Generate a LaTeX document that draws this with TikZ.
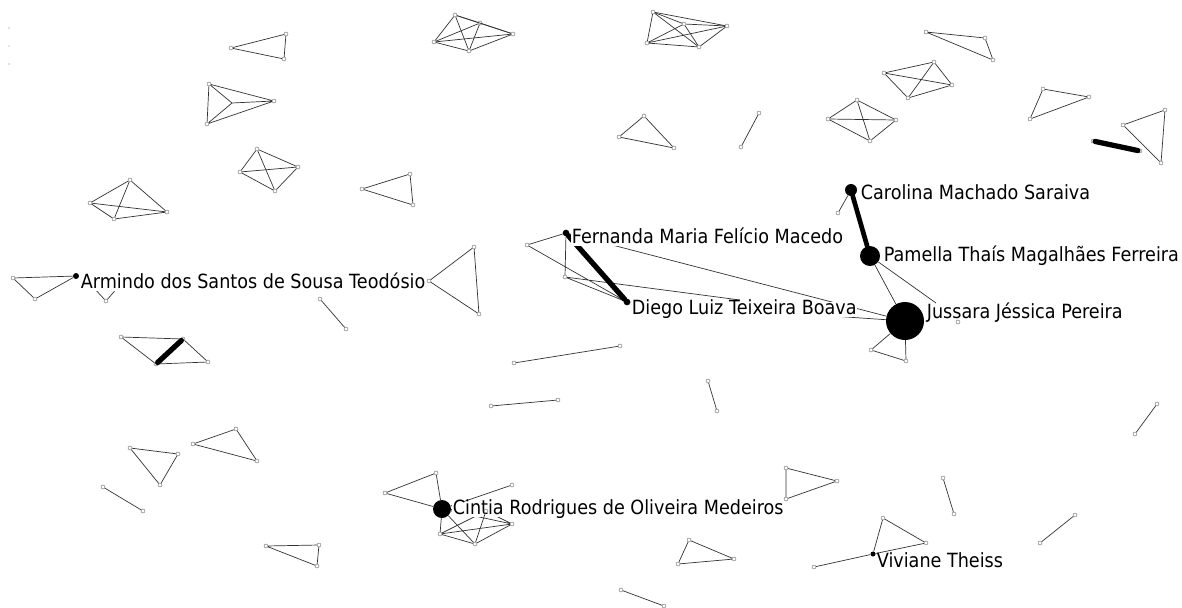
\documentclass[tikz,border=0pt]{standalone}
\usepackage{fontspec}
\setmainfont{DejaVu Sans}[FakeStretch=0.9]
\tikzset{
  v/.style={circle, draw=black!60, fill=white, inner sep=0pt, minimum size=0.12cm, line width=0.35pt},
  speck/.style={circle, fill=black!45, inner sep=0pt, minimum size=0.04cm},
  hub/.style={circle, fill=black, inner sep=0pt},
  lbl/.style={anchor=base west, fill=white, inner xsep=0.5pt, inner ysep=0.5pt,
    text height=0.95em, text depth=0.22em, font=\fontsize{16.7}{19}\selectfont},
  tie/.style={draw=black!80, line width=0.6pt},
  heavy/.style={line width=4.5pt, line cap=round},
}
\begin{document}
\begin{tikzpicture}[x=0.03cm, y=-0.03cm]
\useasboundingbox (0,0) rectangle (1182,607);

% specks at the left edge
\node[speck] (sp1) at (9,28) {};
\node[speck] (sp2) at (9,46) {};
\node[speck] (sp3) at (9,64) {};

% top left groups
\node[v] (a1) at (231,48) {};
\node[v] (a2) at (286,34) {};
\node[v] (a3) at (284,59) {};
\draw[tie] (a1) -- (a2) (a2) -- (a3) (a3) -- (a1);

\node[v] (b1) at (209,84) {};
\node[v] (b2) at (274,101) {};
\node[v] (b3) at (207,124) {};
\coordinate (b4) at (232,103);
\draw[tie] (b1) -- (b2) (b1) -- (b3) (b3) -- (b2) (b1) -- (b4) (b3) -- (b4) (b4) -- (b2);

\node[v] (c1) at (257,149) {};
\node[v] (c2) at (298,167) {};
\node[v] (c3) at (275,191) {};
\node[v] (c4) at (240,172) {};
\foreach \p/\q in {1/2,1/3,1/4,2/3,2/4,3/4} \draw[tie] (c\p) -- (c\q);

\node[v] (d1) at (130,180) {};
\node[v] (d2) at (90,203) {};
\node[v] (d3) at (114,219) {};
\node[v] (d4) at (167,212) {};
\foreach \p/\q in {1/2,1/3,1/4,2/3,2/4,3/4} \draw[tie] (d\p) -- (d\q);

\node[v] (e1) at (455,15) {};
\node[v] (e2) at (480,23) {};
\node[v] (e3) at (513,34) {};
\node[v] (e4) at (469,51) {};
\node[v] (e5) at (434,42) {};
\foreach \p/\q in {1/2,1/3,1/4,1/5,2/3,2/4,2/5,3/4,3/5,4/5} \draw[tie] (e\p) -- (e\q);

\node[v] (f1) at (362,189) {};
\node[v] (f2) at (410,174) {};
\node[v] (f3) at (413,205) {};
\draw[tie] (f1) -- (f2) (f2) -- (f3) (f3) -- (f1);

% top right groups
\node[v] (g1) at (653,12) {};
\node[v] (g2) at (684,24) {};
\node[v] (g3) at (727,26) {};
\node[v] (g4) at (699,47) {};
\node[v] (g5) at (647,43) {};
\foreach \p/\q in {1/2,1/3,1/4,1/5,2/3,2/4,2/5,3/4,3/5,4/5} \draw[tie] (g\p) -- (g\q);

\node[v] (h1) at (644,116) {};
\node[v] (h2) at (619,137) {};
\node[v] (h3) at (674,148) {};
\draw[tie] (h1) -- (h2) (h2) -- (h3) (h3) -- (h1);

\node[v] (i1) at (759,113) {};
\node[v] (i2) at (741,147) {};
\draw[tie] (i1) -- (i2);

\node[v] (j1) at (857,100) {};
\node[v] (j2) at (896,120) {};
\node[v] (j3) at (870,141) {};
\node[v] (j4) at (828,119) {};
\foreach \p/\q in {1/2,1/3,1/4,2/3,2/4,3/4} \draw[tie] (j\p) -- (j\q);

\node[v] (k1) at (926,32) {};
\node[v] (k2) at (985,38) {};
\node[v] (k3) at (993,60) {};
\draw[tie] (k1) -- (k2) (k2) -- (k3) (k3) -- (k1);

\node[v] (l1) at (884,73) {};
\node[v] (l2) at (934,62) {};
\node[v] (l3) at (952,85) {};
\node[v] (l4) at (908,98) {};
\foreach \p/\q in {1/2,1/3,1/4,2/3,2/4,3/4} \draw[tie] (l\p) -- (l\q);

\node[v] (m1) at (1043,89) {};
\node[v] (m2) at (1089,97) {};
\node[v] (m3) at (1030,119) {};
\draw[tie] (m1) -- (m2) (m2) -- (m3) (m3) -- (m1);

\node[v] (n1) at (1123,125) {};
\node[v] (n2) at (1165,110) {};
\node[v] (n3) at (1161,163) {};
\draw[tie] (n1) -- (n2) (n2) -- (n3) (n3) -- (n1);

\node[v] (o1) at (1093,141) {};
\node[v] (o2) at (1140,151) {};
\draw[heavy] (o1) -- (o2);

% Armindo
\node[hub, minimum size=0.18cm] (armindo) at (76,276) {};
\node[v] (p1) at (13,278) {};
\node[v] (p2) at (35,299) {};
\draw[tie] (p1) -- (armindo) (p1) -- (p2) (p2) -- (armindo);
\node[v] (q1) at (106,301) {};
\coordinate (q2) at (92,286);
\coordinate (q3) at (119,286);
\draw[tie] (q2) -- (q1) -- (q3);

\node[v] (r1) at (121,337) {};
\node[v] (r2) at (183,339) {};
\node[v] (r3) at (208,362) {};
\node[v] (r4) at (156,364) {};
\draw[tie] (r1) -- (r2) (r1) -- (r4) (r4) -- (r3) (r2) -- (r3);
\draw[heavy] (r4) -- (r2);

\node[v] (s1) at (320,299) {};
\node[v] (s2) at (346,329) {};
\draw[tie] (s1) -- (s2);

\node[v] (t1) at (474,247) {};
\node[v] (t2) at (429,281) {};
\node[v] (t3) at (479,314) {};
\draw[tie] (t1) -- (t2) (t2) -- (t3) (t3) -- (t1);

% Fernanda and Diego
\node[hub, minimum size=0.2cm] (fernanda) at (566,233) {};
\node[hub, minimum size=0.2cm] (diego) at (627,302) {};
\node[v] (fa) at (527,245) {};
\node[v] (fb) at (565,277) {};
\coordinate (fc) at (740,300);
\draw[tie] (fa) -- (fernanda) (fa) -- (diego) (fb) -- (fernanda) (fb) -- (diego) (fb) -- (fc);
\draw[heavy] (fernanda) -- (diego);

% Carolina, Pamella, Jussara
\node[hub, minimum size=0.36cm] (carolina) at (851,190) {};
\node[v] (ca) at (838,213) {};
\node[hub, minimum size=0.6cm] (pamella) at (870,256) {};
\node[hub, minimum size=1.14cm] (jussara) at (905,321) {};
\coordinate (pb) at (936,303);
\node[v] (ja) at (871,350) {};
\node[v] (jb) at (906,361) {};
\draw[tie] (carolina) -- (ca) (pamella) -- (jussara) (pamella) -- (pb)
  (jussara) -- (ja) (ja) -- (jb) (jussara) -- (jb)
  (fernanda) -- (jussara) (diego) -- (jussara);
\draw[heavy, line width=4pt] (carolina) -- (pamella);

% middle single ties
\node[v] (u1) at (514,363) {};
\node[v] (u2) at (620,346) {};
\draw[tie] (u1) -- (u2);
\node[v] (w1) at (491,406) {};
\node[v] (w2) at (558,400) {};
\draw[tie] (w1) -- (w2);
\node[v] (x1) at (708,381) {};
\node[v] (x2) at (717,411) {};
\draw[tie] (x1) -- (x2);

% bottom left groups
\node[v] (y1) at (130,448) {};
\node[v] (y2) at (178,454) {};
\node[v] (y3) at (160,485) {};
\draw[tie] (y1) -- (y2) (y2) -- (y3) (y3) -- (y1);
\node[v] (z1) at (193,444) {};
\node[v] (z2) at (236,429) {};
\node[v] (z3) at (257,461) {};
\draw[tie] (z1) -- (z2) (z2) -- (z3) (z3) -- (z1);
\node[v] (aa1) at (103,487) {};
\node[v] (aa2) at (143,511) {};
\draw[tie] (aa1) -- (aa2);
\node[v] (bb1) at (266,546) {};
\node[v] (bb2) at (319,545) {};
\node[v] (bb3) at (317,566) {};
\draw[tie] (bb1) -- (bb2) (bb2) -- (bb3) (bb3) -- (bb1);

% Cintia
\node[hub, minimum size=0.54cm] (cintia) at (442,509) {};
\node[v] (ci1) at (436,473) {};
\node[v] (ci2) at (385,493) {};
\node[v] (ci3) at (440,534) {};
\node[v] (ci4) at (475,544) {};
\node[v] (ci5) at (512,524) {};
\node[v] (ci6) at (512,485) {};
\coordinate (ci7) at (486,511);
\draw[tie] (ci2) -- (ci1) (ci2) -- (cintia) (ci1) -- (cintia) (ci6) -- (cintia)
  (ci5) -- (cintia) (ci3) -- (ci7) (ci5) -- (ci7) (cintia) -- (ci7);

% bottom right groups
\node[v] (dd1) at (786,468) {};
\node[v] (dd2) at (837,481) {};
\node[v] (dd3) at (786,499) {};
\draw[tie] (dd1) -- (dd2) (dd2) -- (dd3) (dd3) -- (dd1);
\node[v] (ee1) at (689,540) {};
\node[v] (ee2) at (734,559) {};
\node[v] (ee3) at (678,564) {};
\draw[tie] (ee1) -- (ee2) (ee2) -- (ee3) (ee3) -- (ee1);
\node[v] (ff1) at (621,590) {};
\node[v] (ff2) at (664,606) {};
\draw[tie] (ff1) -- (ff2);

\node[hub, minimum size=0.15cm] (viviane) at (873,554) {};
\node[v] (vi1) at (814,567) {};
\node[v] (vi2) at (883,518) {};
\node[v] (vi3) at (926,543) {};
\draw[tie] (vi1) -- (viviane) (viviane) -- (vi2) (vi2) -- (vi3) (vi3) -- (viviane);

\node[v] (gg1) at (943,478) {};
\node[v] (gg2) at (954,514) {};
\draw[tie] (gg1) -- (gg2);
\node[v] (hh1) at (1040,543) {};
\node[v] (hh2) at (1075,515) {};
\draw[tie] (hh1) -- (hh2);
\node[v] (kk1) at (1135,434) {};
\node[v] (kk2) at (1157,404) {};
\draw[tie] (kk1) -- (kk2);

% labels
\node[lbl] (lcarolina) at (860,199) {Carolina Machado Saraiva};
\node[lbl] (lfernanda) at (571,243) {Fernanda Maria Felício Macedo};
\node[lbl] (lpamella) at (883,261) {Pamella Thaís Magalhães Ferreira};
\node[lbl] (larmindo) at (80,288) {Armindo dos Santos de Sousa Teodósio};
\node[lbl] (ldiego) at (631,314) {Diego Luiz Teixeira Boava};
\node[lbl] (ljussara) at (926,318) {Jussara Jéssica Pereira};
\node[lbl] (lcintia) at (452,514) {Cintia Rodrigues de Oliveira Medeiros};
\node[lbl] (lviviane) at (876,567) {Viviane Theiss};

% ties drawn over the labels
\node[v] (js) at (958,322) {};
\draw[tie] (cintia) -- (ci3) (cintia) -- (ci4) (ci3) -- (ci4) (ci3) -- (ci5) (ci4) -- (ci5)
  (ci4) -- (ci7);
\node[v] at (ci7) (ci7n) {};
\end{tikzpicture}
\end{document}
